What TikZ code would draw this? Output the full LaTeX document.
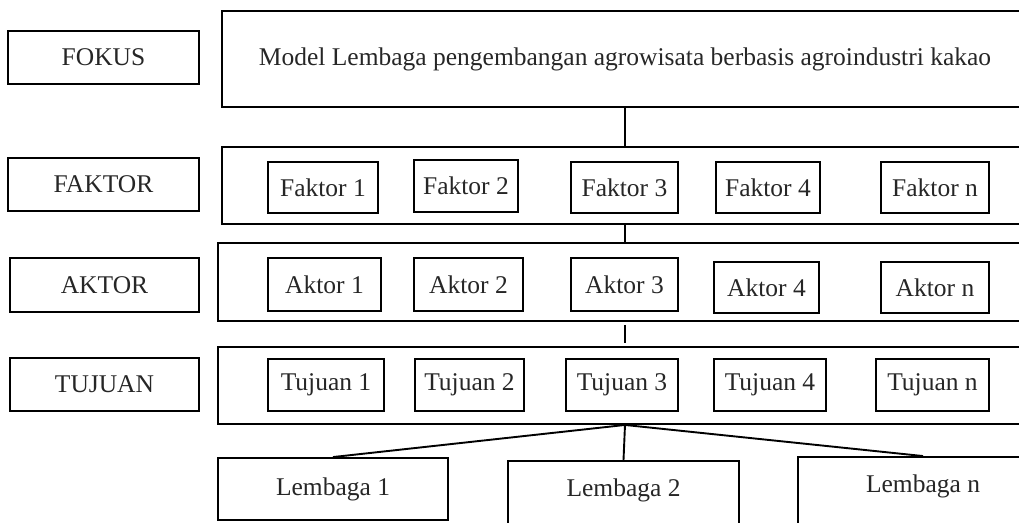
\documentclass[tikz,border=0pt]{standalone}
\usepackage{fontspec}
\setmainfont{Liberation Serif}
\usepackage{tikz}

\tikzset{
	kotak/.style={draw, inner sep=0pt, text=black!85, font=\fontsize{25.5}{30}\selectfont},
	garis/.style={draw}
}

\begin{document}
\begin{tikzpicture}[x=1pt, y=-1pt, line width=1.9pt]
				\useasboundingbox (0,0) rectangle (1019,522);
				\clip (0,0) rectangle (1019,522);
				\node [kotak, minimum width=191, minimum height=53] (fokus) at (103.5,57.5) {FOKUS};
				\node [kotak, minimum width=191, minimum height=53] (faktor) at (103.5,184.5) {FAKTOR};
				\node [kotak, minimum width=189, minimum height=54] (aktor) at (104.5,285) {AKTOR};
				\node [kotak, minimum width=189, minimum height=53] (tujuan) at (104.5,384.5) {TUJUAN};
				\node [kotak, minimum width=806, minimum height=96] (model) at (625,59) {Model Lembaga pengembangan agrowisata berbasis agroindustri kakao};
				\node [kotak, minimum width=806, minimum height=77] (barisfaktor) at (625,185.5) {};
				\node [kotak, minimum width=814, minimum height=78] (barisaktor) at (625,282) {};
				\node [kotak, minimum width=814, minimum height=77] (baristujuan) at (625,385.5) {};
				\node [kotak, minimum width=110, minimum height=51] (f1) at (323,187.5) {Faktor 1};
				\node [kotak, minimum width=104, minimum height=52] (f2) at (466,186) {Faktor 2};
				\node [kotak, minimum width=107, minimum height=51] (f3) at (624.5,187.5) {Faktor 3};
				\node [kotak, minimum width=104, minimum height=51] (f4) at (768,187.5) {Faktor 4};
				\node [kotak, minimum width=108, minimum height=51] (fn) at (935,187.5) {Faktor n};
				\node [kotak, minimum width=113, minimum height=53] (a1) at (324.5,284.5) {Aktor 1};
				\node [kotak, minimum width=109, minimum height=53] (a2) at (468.5,284.5) {Aktor 2};
				\node [kotak, minimum width=107, minimum height=53] (a3) at (624.5,284.5) {Aktor 3};
				\node [kotak, minimum width=105, minimum height=51] (a4) at (766.5,287.5) {Aktor 4};
				\node [kotak, minimum width=108, minimum height=51] (an) at (935,287.5) {Aktor n};
				\node [kotak, minimum width=116, minimum height=52] (t1) at (326,385) {Tujuan 1};
				\node [kotak, minimum width=109, minimum height=52] (t2) at (469.5,385) {Tujuan 2};
				\node [kotak, minimum width=112, minimum height=52] (t3) at (622,385) {Tujuan 3};
				\node [kotak, minimum width=112, minimum height=52] (t4) at (770,385) {Tujuan 4};
				\node [kotak, minimum width=113, minimum height=52] (tn) at (932.5,385) {Tujuan n};
				\node [kotak, minimum width=230, minimum height=62] (l1) at (333,489) {Lembaga 1};
				\node [kotak, minimum width=231, minimum height=78, text height=17pt, text depth=25pt] (l2) at (623.5,500) {Lembaga 2};
				\node [kotak, minimum width=250, minimum height=78, text height=17pt, text depth=25pt] (ln) at (923,496) {Lembaga n};
				\draw [garis] (model.south) -- (barisfaktor.north);
				\draw [garis] (barisfaktor.south) -- (barisaktor.north);
				\draw [garis] [shorten <=3pt, shorten >=3pt] (barisaktor.south) -- (baristujuan.north);
				\draw [garis] (baristujuan.south) -- (l1.north);
				\draw [garis] (baristujuan.south) -- (l2.north);
				\draw [garis] (baristujuan.south) -- (ln.north);
				\end{tikzpicture}
\end{document}
